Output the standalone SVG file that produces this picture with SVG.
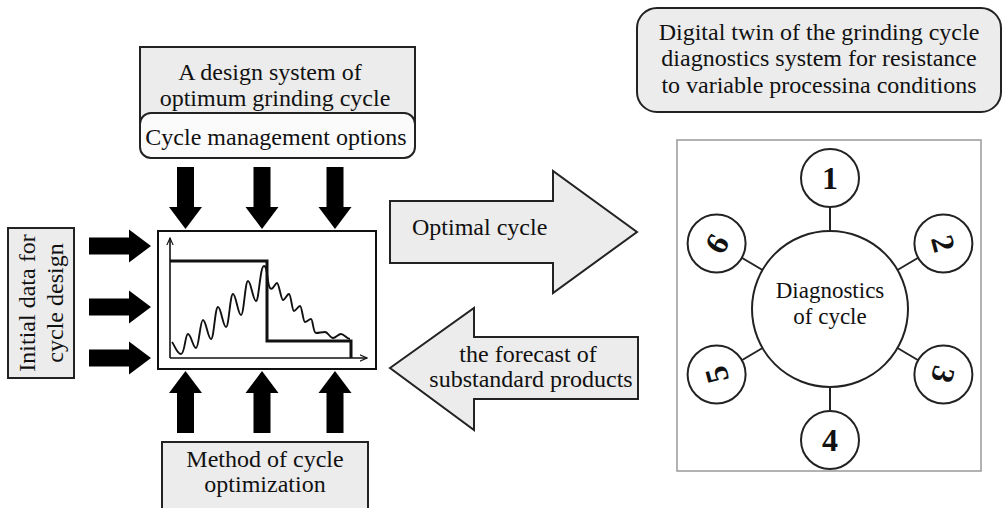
<svg xmlns="http://www.w3.org/2000/svg" width="1008" height="508" viewBox="0 0 1008 508">
<style>
  text { font-family: "Liberation Serif", "Times New Roman", serif; fill: #111; }
  .t22 { font-size: 24px; }
  .t20 { font-size: 23px; }
  .num { font-size: 32px; font-weight: bold; text-anchor: middle; }
  .mid { text-anchor: middle; }
  .box { fill: #ececec; stroke: #222; stroke-width: 2; }
  .wbox { fill: #fbfbfb; stroke: #222; stroke-width: 2; }
  .blk { fill: #000; }
  .garrow { fill: #ececec; stroke: #222; stroke-width: 2; stroke-linejoin: miter; }
  .circ { fill: #fff; stroke: #222; stroke-width: 2; }
  .ln { stroke: #222; stroke-width: 2; fill: none; }
  .thick { stroke: #111; stroke-width: 3; fill: none; }
  .thin { stroke: #111; stroke-width: 1.6; fill: none; }
  .wave { stroke: #111; stroke-width: 1.9; fill: none; }
</style>
<defs>
  <marker id="ax" viewBox="0 0 10 10" refX="9" refY="5" markerWidth="8" markerHeight="8" orient="auto" markerUnits="userSpaceOnUse">
    <path d="M0,1 L9,5 L0,9" fill="none" stroke="#111" stroke-width="1.4"/>
  </marker>
  <polygon id="downArrow" points="-8.5,0 8.5,0 8.5,40 16.5,40 0,62 -16.5,40 -8.5,40"/>
</defs>
<rect width="1008" height="508" fill="#fff"/>

<g id="design-system">
  <rect class="box" x="140" y="47" width="275" height="80"/>
  <text class="t22 mid" x="270" y="80">A design system of</text>
  <text class="t22 mid" x="275" y="106">optimum grinding cycle</text>
</g>
<g id="cycle-options">
  <rect class="wbox" x="140" y="113" width="275" height="45" rx="11"/>
  <text class="t22 mid" x="276" y="145">Cycle management options</text>
</g>

<g id="initial-data">
  <rect class="box" x="8" y="228" width="66" height="150"/>
  <text class="t22 mid" transform="translate(35,303) rotate(-90)">Initial data for</text>
  <text class="t22 mid" transform="translate(63,303) rotate(-90)">cycle design</text>
</g>

<g id="cycle-chart">
  <rect x="158" y="231" width="218" height="138" fill="#fff" stroke="#111" stroke-width="2"/>
  <line class="thin" x1="170" y1="358" x2="170" y2="238" marker-end="url(#ax)"/>
  <line class="thin" x1="170" y1="358" x2="367" y2="358" marker-end="url(#ax)"/>
  <path class="thick" d="M170,261 H267 V341 H351 V358"/>
  <path class="wave" d="M172,342 C175,346 177,354 181,354 S185,334 188,334 S193,348 196,348 S200,320 203,320 S208,339 211,339 S215,307 218,307 S223,327 226,327 S230,294 233,294 S238,315 241,315 S245,281 248,281 S253,301 256,301 S260,266 264,266 S267,285 270,288 S275,283 277,283 S281,300 283,300 S287,294 289,294 S292,311 294,311 S298,306 300,306 S303,322 305,322 S309,319 311,319 S313,333 316,333 S322,332 325,332 S330,338 333,338 S338,334 341,334 S347,339 350,339"/>
</g>

<g id="method-optimization">
  <rect class="box" x="162" y="442" width="206" height="70"/>
  <text class="t22 mid" x="265" y="467">Method of cycle</text>
  <text class="t22 mid" x="265" y="492">optimization</text>
</g>

<g id="digital-twin">
  <rect class="box" x="637" y="8" width="364" height="104" rx="20"/>
  <text class="t22 mid" x="819" y="40">Digital twin of the grinding cycle</text>
  <text class="t22 mid" x="819" y="66">diagnostics system for resistance</text>
  <text class="t22 mid" x="819" y="93">to variable processina conditions</text>
</g>

<g id="diagnostics-panel">
  <rect x="677" y="140" width="304" height="331" fill="#fff" stroke="#999" stroke-width="1.5"/>
</g>

<g id="connectors">
  <use href="#downArrow" class="blk" transform="translate(185.5,167)"/>
  <use href="#downArrow" class="blk" transform="translate(262,167)"/>
  <use href="#downArrow" class="blk" transform="translate(335,167)"/>
  <use href="#downArrow" class="blk" transform="translate(185.5,433) rotate(180)"/>
  <use href="#downArrow" class="blk" transform="translate(262,433) rotate(180)"/>
  <use href="#downArrow" class="blk" transform="translate(335,433) rotate(180)"/>
  <use href="#downArrow" class="blk" transform="translate(89,246) rotate(-90)"/>
  <use href="#downArrow" class="blk" transform="translate(89,307) rotate(-90)"/>
  <use href="#downArrow" class="blk" transform="translate(89,358) rotate(-90)"/>
  <g id="optimal-cycle-arrow">
    <polygon class="garrow" points="390,201 553,201 553,171 637,232 553,293 553,263 390,263"/>
    <text class="t22" x="412" y="235">Optimal cycle</text>
  </g>
  <g id="forecast-arrow">
    <polygon class="garrow" points="390,368 474,308 474,337 638,337 638,399 474,399 474,430"/>
    <text class="t22 mid" x="528" y="362">the forecast of</text>
    <text class="t22 mid" x="531" y="387">substandard products</text>
  </g>
  <line class="ln" x1="830" y1="231" x2="830" y2="207"/>
  <line class="ln" x1="830" y1="387" x2="830" y2="411"/>
  <line class="ln" x1="897.5" y1="270" x2="918.6" y2="257.5"/>
  <line class="ln" x1="897.5" y1="348" x2="918.6" y2="360.5"/>
  <line class="ln" x1="762.5" y1="270" x2="741.4" y2="257.5"/>
  <line class="ln" x1="762.5" y1="348" x2="741.4" y2="360.5"/>
</g>

<g id="diagnostics-of-cycle">
  <circle class="circ" cx="830" cy="309" r="78"/>
  <text class="t20 mid" x="830" y="298">Diagnostics</text>
  <text class="t20 mid" x="830" y="324">of cycle</text>
</g>
<g id="node-1">
  <circle class="circ" cx="830" cy="178" r="29"/>
  <text class="num" x="830" y="189">1</text>
</g>
<g id="node-2">
  <circle class="circ" cx="943.4" cy="243.5" r="29"/>
  <text class="num" transform="translate(943.4,243.5) rotate(75)" y="11">2</text>
</g>
<g id="node-3">
  <circle class="circ" cx="943.4" cy="374.5" r="29"/>
  <text class="num" transform="translate(943.4,374.5) rotate(105)" y="11">3</text>
</g>
<g id="node-4">
  <circle class="circ" cx="830" cy="440" r="29"/>
  <text class="num" x="830" y="451">4</text>
</g>
<g id="node-5">
  <circle class="circ" cx="716.6" cy="374.5" r="29"/>
  <text class="num" transform="translate(716.6,374.5) rotate(-105)" y="11">5</text>
</g>
<g id="node-6">
  <circle class="circ" cx="716.6" cy="243.5" r="29"/>
  <text class="num" transform="translate(716.6,243.5) rotate(-60)" y="11">6</text>
</g>
</svg>
